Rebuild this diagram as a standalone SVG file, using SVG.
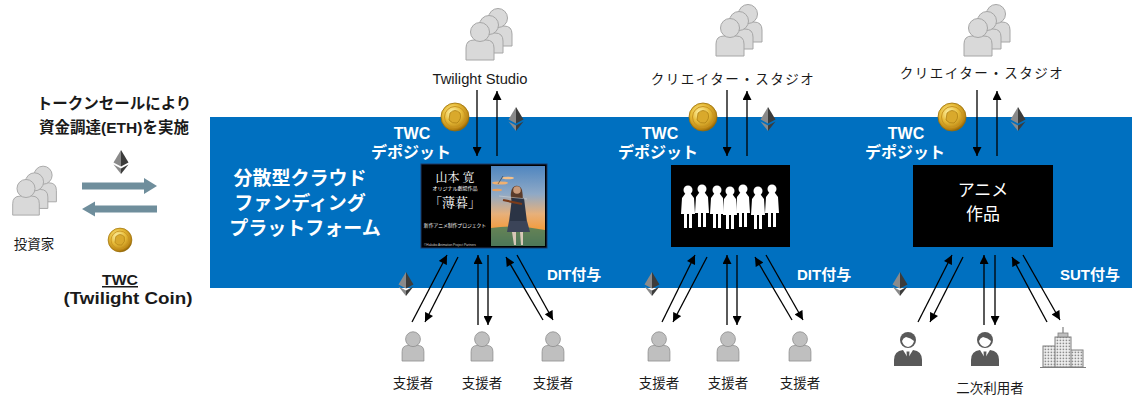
<svg xmlns="http://www.w3.org/2000/svg" width="1132" height="397" viewBox="0 0 1132 397">
  <style>
    .jp { font-family: "Liberation Sans", "Noto Sans CJK JP", sans-serif; }
    .title { font-size: 15.5px; font-weight: bold; fill: #1a1a1a; }
    .band { font-size: 19px; font-weight: bold; fill: #ffffff; }
    .dep { font-size: 16px; font-weight: bold; fill: #ffffff; }
    .grant { font-size: 15px; font-weight: bold; fill: #ffffff; }
    .lbl { font-size: 13.5px; fill: #1a1a1a; }
    .wire { stroke: #000; stroke-width: 1.3; fill: none; marker-end: url(#ah); }
    .crowd { fill: #d9d9d9; stroke: #a6a6a6; stroke-width: 1; }
    .fan { fill: #bfbfbf; stroke: #8c8c8c; stroke-width: 1; }
  </style>
  <defs>
    <marker id="ah" viewBox="0 0 10 10" refX="10" refY="5" markerWidth="10" markerHeight="9" markerUnits="userSpaceOnUse" orient="auto">
      <path d="M0,0 L10,5 L0,10 z" fill="#000"/>
    </marker>
    <radialGradient id="gold" cx="0.4" cy="0.35" r="0.7">
      <stop offset="0" stop-color="#fff6b0"/>
      <stop offset="0.45" stop-color="#e8bd3a"/>
      <stop offset="0.85" stop-color="#b98311"/>
      <stop offset="1" stop-color="#7a5406"/>
    </radialGradient>
    <linearGradient id="sky" x1="0" y1="0" x2="0" y2="1">
      <stop offset="0" stop-color="#4f86c0"/>
      <stop offset="0.35" stop-color="#8fa9c6"/>
      <stop offset="0.6" stop-color="#e7b07a"/>
      <stop offset="0.8" stop-color="#f39b3c"/>
      <stop offset="1" stop-color="#8b6a4a"/>
    </linearGradient>
    <pattern id="win" width="3" height="3" patternUnits="userSpaceOnUse">
      <rect width="3" height="3" fill="#f2f2f2"/>
      <rect x="0.6" y="0.6" width="1.6" height="1.6" fill="#8c8c8c"/>
    </pattern>
    <!-- coin token -->
    <g id="coin">
      <circle r="14" fill="url(#gold)" stroke="#9b6e08" stroke-width="0.8"/>
      <circle r="10.5" fill="none" stroke="#c99420" stroke-width="1"/>
      <path d="M-5,-4 Q0,-9 5,-4 Q7,2 2,6 Q-3,7 -6,3 Z" fill="#d9a92c" stroke="#a87a10" stroke-width="0.7"/>
    </g>
    <!-- ether glyph -->
    <g id="eth">
      <polygon points="0,-12 -7.5,0.5 0,4.5" fill="#8a8a8a"/>
      <polygon points="0,-12 7.5,0.5 0,4.5" fill="#3c3c3b"/>
      <polygon points="-7.5,2.5 0,12 0,6.5" fill="#8a8a8a"/>
      <polygon points="7.5,2.5 0,12 0,6.5" fill="#3c3c3b"/>
    </g>
    <!-- single person -->
    <g id="person">
      <path d="M-14,18 V6 Q-14,-2 -6,-2 H6 Q14,-2 14,6 V18 Z"/>
      <circle cx="0" cy="-10" r="9.5"/>
    </g>
    <!-- group of three persons -->
    <g id="group">
      <use href="#person" x="18" y="-14"/>
      <use href="#person" x="9" y="-7"/>
      <use href="#person"/>
    </g>
    <!-- business person -->
    <g id="biz">
      <path d="M-14,17 V11 Q-14,2 -5,1 L5,1 Q14,2 14,11 V17 Z" fill="#595959"/>
      <path d="M-5,1 L0,9 L5,1 Z" fill="#ffffff"/>
      <path d="M-1.5,2.5 L1.5,2.5 L1,10 L0,12 L-1,10 Z" fill="#595959"/>
      <circle cx="0" cy="-9" r="8" fill="#595959"/>
      <path d="M-6,-8 Q-5,-3 0,-2 Q5,-3 6,-8 Q3,-11 -2,-12 Q-5,-11 -6,-8 Z" fill="#ffffff"/>
    </g>
    <!-- standing figure -->
    <g id="girl" fill="#ffffff">
      <circle cx="0" cy="0" r="4.5"/>
      <path d="M-3,4 L-6,8 L-7,24 L-4,24 L-4,38 L-1,38 L-1,24 L1,24 L1,38 L4,38 L4,24 L7,24 L6,8 L3,4 Z"/>
    </g>
  </defs>

  <!-- platform band -->
  <rect id="platform" x="210" y="117" width="922" height="171" fill="#0070c0"/>

  <!-- investor side -->
  <g id="investor">
    <text class="jp title" x="114" y="109" text-anchor="middle">トークンセールにより</text>
    <text class="jp title" x="114" y="133" text-anchor="middle">資金調達(ETH)を実施</text>
    <use href="#eth" x="121" y="162"/>
    <polygon points="82,182.5 144,182.5 144,178 157,186 144,194 144,189.5 82,189.5" fill="#6f8e9c"/>
    <polygon points="157,205.5 95,205.5 95,201.5 82,209 95,216.5 95,212.5 157,212.5" fill="#6f8e9c"/>
    <use href="#group" class="crowd" transform="translate(26 198) scale(0.95)"/>
    <text class="jp lbl" x="34" y="249" text-anchor="middle">投資家</text>
    <use href="#coin" transform="translate(120 240) scale(0.85)"/>
    <text class="jp" x="120" y="285" text-anchor="middle" font-size="15" font-weight="bold" fill="#1a1a1a" text-decoration="underline" textLength="36" lengthAdjust="spacingAndGlyphs">TWC</text>
    <text class="jp" x="128" y="304" text-anchor="middle" font-size="16.5" font-weight="bold" fill="#1a1a1a" textLength="129" lengthAdjust="spacingAndGlyphs">(Twilight Coin)</text>
  </g>

  <g id="platform-label">
    <text class="jp band" x="300" y="185" text-anchor="middle">分散型クラウド</text>
    <text class="jp band" x="300" y="210" text-anchor="middle">ファンディング</text>
    <text class="jp band" x="305" y="235" text-anchor="middle">プラットフォーム</text>
  </g>

  <!-- project 1 -->
  <g id="studio1">
    <use href="#group" x="480" y="42" class="crowd"/>
    <text class="jp" x="480" y="84" text-anchor="middle" font-size="14" fill="#1a1a1a" textLength="95" lengthAdjust="spacingAndGlyphs">Twilight Studio</text>
  </g>
  <g id="deposit1">
    <use href="#coin" x="455" y="117"/>
    <use href="#eth" x="516" y="119"/>
    <text class="jp dep" x="412" y="139" text-anchor="middle">TWC</text>
    <text class="jp dep" x="411" y="158" text-anchor="middle">デポジット</text>
  </g>
  <g id="work1">
    <rect x="421" y="164" width="126" height="84" fill="#000" stroke="#1f3864" stroke-width="1"/>
    <text x="455" y="182" text-anchor="middle" font-family="'Noto Serif CJK JP','Liberation Serif','Noto Sans CJK JP',serif" font-size="12" fill="#fff">山本 寛</text>
    <text x="455" y="190" text-anchor="middle" font-family="'Noto Sans CJK JP',sans-serif" font-size="5" fill="#fff">オリジナル劇場作品</text>
    <text x="455" y="207" text-anchor="middle" font-family="'Noto Serif CJK JP','Liberation Serif','Noto Sans CJK JP',serif" font-size="13" fill="#fff">「薄暮」</text>
    <text x="455" y="227" text-anchor="middle" font-family="'Noto Sans CJK JP',sans-serif" font-size="4.8" fill="#fff">新作アニメ制作プロジェクト</text>
    <text x="424" y="246" font-family="'Liberation Sans',sans-serif" font-size="3.2" fill="#ccc">©Hakubo Animation Project Partners</text>
    <rect x="491" y="166" width="54" height="80" fill="url(#sky)"/>
    <ellipse cx="500" cy="183" rx="8" ry="1.6" fill="#f0b070"/>
    <ellipse cx="508" cy="178" rx="6" ry="1.3" fill="#f4c08a"/>
    <ellipse cx="497" cy="190" rx="5" ry="1.2" fill="#e9a060"/>
    <path d="M498,184 L503,176" stroke="#333" stroke-width="0.6"/>
    <path d="M491,228 Q518,224 545,230 L545,246 L491,246 Z" fill="#3d7a5c" opacity="0.8"/>
    <!-- violinist -->
    <path d="M515,186 Q510,188 511,198 Q512,206 516,208 L521,208 Q524,200 522,190 Q520,185 515,186 Z" fill="#5a3b2a"/>
    <circle cx="517" cy="190" r="3.8" fill="#c99a7a"/>
    <path d="M512,198 L524,198 L527,222 L509,222 Z" fill="#2b3445"/>
    <path d="M509,221 L527,221 L530,232 L507,232 Z" fill="#3b4458"/>
    <path d="M512,232 L514,245 L516,245 L516,232 Z M520,232 L521,245 L523,245 L523,232 Z" fill="#d8c8b8"/>
    <path d="M503,200 L522,204" stroke="#7a3b1a" stroke-width="2.2"/>
    <path d="M499,196 L527,199" stroke="#ddd" stroke-width="0.5"/>
  </g>
  <g id="fans1">
    <use href="#person" class="fan" transform="translate(413 347) scale(0.78)"/>
    <use href="#person" class="fan" transform="translate(482 347) scale(0.78)"/>
    <use href="#person" class="fan" transform="translate(553 347) scale(0.78)"/>
    <text class="jp lbl" x="413" y="388" text-anchor="middle">支援者</text>
    <text class="jp lbl" x="482" y="388" text-anchor="middle">支援者</text>
    <text class="jp lbl" x="553" y="388" text-anchor="middle">支援者</text>
    <use href="#eth" x="406" y="284"/>
    <text class="jp grant" x="547" y="280">DIT付与</text>
  </g>

  <!-- project 2 -->
  <g id="studio2">
    <use href="#group" x="730" y="38" class="crowd"/>
    <text class="jp lbl" x="733" y="84" text-anchor="middle" letter-spacing="1.5">クリエイター・スタジオ</text>
  </g>
  <g id="deposit2">
    <use href="#coin" x="703" y="117"/>
    <use href="#eth" x="768" y="119"/>
    <text class="jp dep" x="660" y="139" text-anchor="middle">TWC</text>
    <text class="jp dep" x="658" y="158" text-anchor="middle">デポジット</text>
  </g>
  <g id="work2">
    <rect x="671" y="165" width="119" height="82" fill="#000"/>
    <use href="#girl" x="688" y="190"/>
    <use href="#girl" x="702" y="189"/>
    <use href="#girl" x="717" y="190"/>
    <use href="#girl" x="730" y="191"/>
    <use href="#girl" x="743" y="189"/>
    <use href="#girl" x="758" y="191"/>
    <use href="#girl" x="772" y="189"/>
  </g>
  <g id="fans2">
    <use href="#person" class="fan" transform="translate(659 347) scale(0.78)"/>
    <use href="#person" class="fan" transform="translate(728 347) scale(0.78)"/>
    <use href="#person" class="fan" transform="translate(800 347) scale(0.78)"/>
    <text class="jp lbl" x="659" y="388" text-anchor="middle">支援者</text>
    <text class="jp lbl" x="728" y="388" text-anchor="middle">支援者</text>
    <text class="jp lbl" x="800" y="388" text-anchor="middle">支援者</text>
    <use href="#eth" x="652" y="284"/>
    <text class="jp grant" x="797" y="280">DIT付与</text>
  </g>

  <!-- project 3 -->
  <g id="studio3">
    <use href="#group" x="978" y="38" class="crowd"/>
    <text class="jp lbl" x="982" y="78" text-anchor="middle" letter-spacing="1.5">クリエイター・スタジオ</text>
  </g>
  <g id="deposit3">
    <use href="#coin" x="952" y="117"/>
    <use href="#eth" x="1018" y="119"/>
    <text class="jp dep" x="906" y="139" text-anchor="middle">TWC</text>
    <text class="jp dep" x="905" y="158" text-anchor="middle">デポジット</text>
  </g>
  <g id="work3">
    <rect x="913" y="165" width="140" height="82" fill="#000"/>
    <text class="jp" x="983" y="196" text-anchor="middle" font-size="17" fill="#fff">アニメ</text>
    <text class="jp" x="983" y="220" text-anchor="middle" font-size="17" fill="#fff">作品</text>
  </g>
  <g id="users3">
    <use href="#biz" x="908" y="349"/>
    <use href="#biz" x="985" y="349"/>
    <g id="company">
      <rect x="1043" y="346" width="13" height="21" fill="url(#win)" stroke="#7f7f7f" stroke-width="1"/>
      <rect x="1070" y="350" width="13" height="17" fill="url(#win)" stroke="#7f7f7f" stroke-width="1"/>
      <rect x="1055" y="337" width="16" height="30" fill="url(#win)" stroke="#7f7f7f" stroke-width="1"/>
      <rect x="1058" y="333" width="10" height="4" fill="#bfbfbf" stroke="#7f7f7f" stroke-width="0.8"/>
      <line x1="1063" y1="327" x2="1063" y2="333" stroke="#7f7f7f" stroke-width="1.2"/>
      <line x1="1040" y1="367.5" x2="1086" y2="367.5" stroke="#7f7f7f" stroke-width="1.2"/>
    </g>
    <text class="jp lbl" x="990" y="393" text-anchor="middle">二次利用者</text>
    <use href="#eth" x="900" y="284"/>
    <text class="jp grant" x="1060" y="280">SUT付与</text>
  </g>

  <!-- connectors -->
  <g id="connectors">
    <line class="wire" x1="477" y1="90" x2="477" y2="156"/>
    <line class="wire" x1="497" y1="156" x2="497" y2="91"/>
    <line class="wire" x1="412" y1="322" x2="447" y2="255"/>
    <line class="wire" x1="458" y1="257" x2="425" y2="322"/>
    <line class="wire" x1="478" y1="325" x2="478" y2="255"/>
    <line class="wire" x1="488" y1="255" x2="488" y2="325"/>
    <line class="wire" x1="543" y1="320" x2="506" y2="257"/>
    <line class="wire" x1="517" y1="255" x2="553" y2="320"/>

    <line class="wire" x1="727" y1="90" x2="727" y2="156"/>
    <line class="wire" x1="747" y1="156" x2="747" y2="91"/>
    <line class="wire" x1="662" y1="322" x2="695" y2="255"/>
    <line class="wire" x1="707" y1="257" x2="673" y2="322"/>
    <line class="wire" x1="727" y1="325" x2="727" y2="255"/>
    <line class="wire" x1="737" y1="255" x2="737" y2="325"/>
    <line class="wire" x1="792" y1="320" x2="755" y2="257"/>
    <line class="wire" x1="766" y1="255" x2="803" y2="320"/>

    <line class="wire" x1="977" y1="90" x2="977" y2="156"/>
    <line class="wire" x1="997" y1="156" x2="997" y2="91"/>
    <line class="wire" x1="918" y1="322" x2="952" y2="255"/>
    <line class="wire" x1="963" y1="257" x2="930" y2="322"/>
    <line class="wire" x1="984" y1="325" x2="984" y2="255"/>
    <line class="wire" x1="995" y1="255" x2="995" y2="325"/>
    <line class="wire" x1="1047" y1="322" x2="1012" y2="257"/>
    <line class="wire" x1="1023" y1="255" x2="1060" y2="320"/>
  </g>
</svg>
